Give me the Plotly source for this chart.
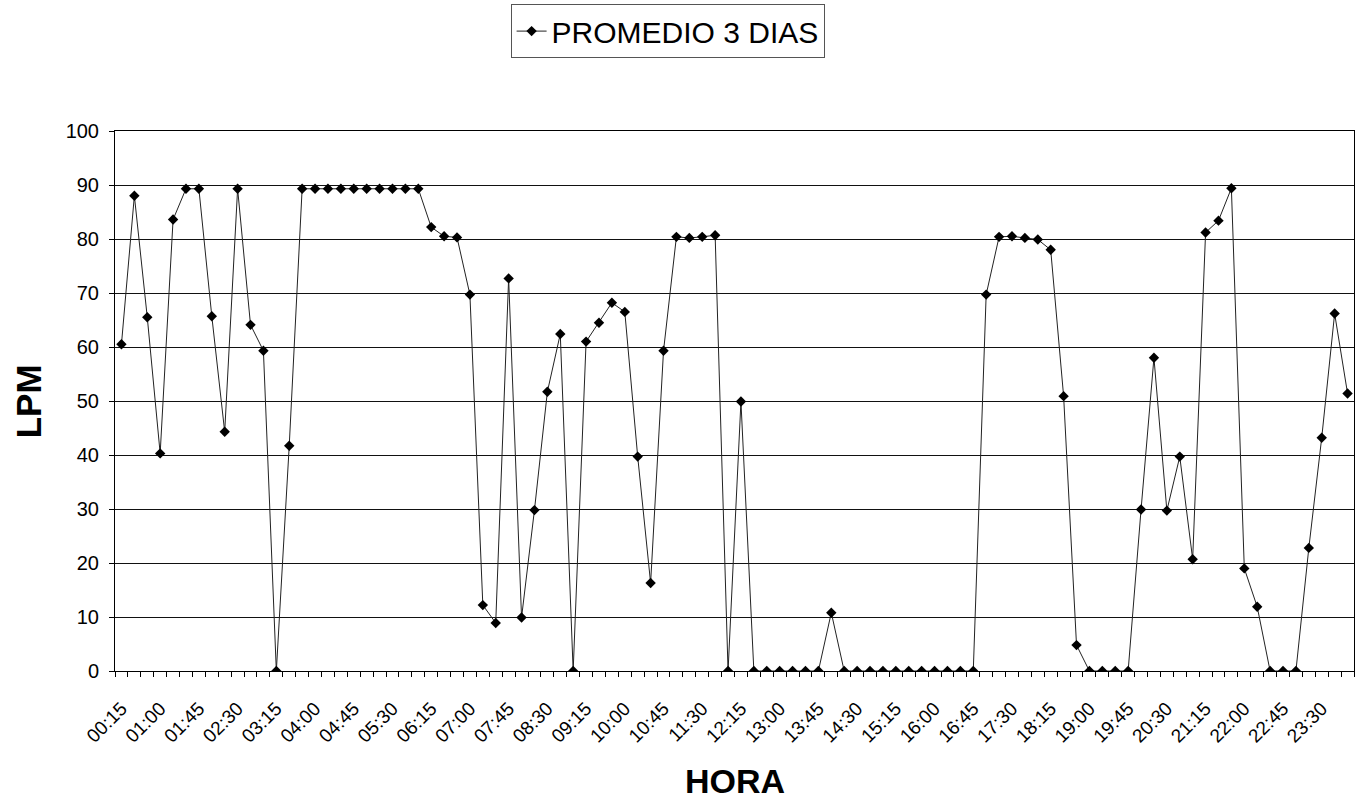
import plotly.graph_objects as go

# Time slots of the day, every 15 minutes (00:15 ... 24:00)
CATEGORIES = [f"{(m // 60):02d}:{(m % 60):02d}" for m in range(15, 24 * 60 + 1, 15)]

# Labels shown on the horizontal axis (every third slot)
TICK_LABELS = [
    "00:15", "01:00", "01:45", "02:30", "03:15", "04:00", "04:45", "05:30",
    "06:15", "07:00", "07:45", "08:30", "09:15", "10:00", "10:45", "11:30",
    "12:15", "13:00", "13:45", "14:30", "15:15", "16:00", "16:45", "17:30",
    "18:15", "19:00", "19:45", "20:30", "21:15", "22:00", "22:45", "23:30",
]

# Average flow (LPM) over three days, one value per slot
PROMEDIO_3_DIAS = [
    60.5, 88.0, 65.5, 40.3, 83.6, 89.3, 89.3, 65.7, 44.3, 89.3, 64.1, 59.3,
    0.0, 41.7, 89.3, 89.3, 89.3, 89.3, 89.3, 89.3, 89.3, 89.3, 89.3, 89.3,
    82.2, 80.5, 80.3, 69.7, 12.2, 8.9, 72.7, 9.9, 29.8, 51.7, 62.4, 0.0,
    61.0, 64.5, 68.2, 66.5, 39.7, 16.3, 59.3, 80.4, 80.2, 80.4, 80.7, 0.0,
    49.9, 0.0, 0.0, 0.0, 0.0, 0.0, 0.0, 10.8, 0.0, 0.0, 0.0, 0.0,
    0.0, 0.0, 0.0, 0.0, 0.0, 0.0, 0.0, 69.7, 80.4, 80.5, 80.2, 79.9,
    78.0, 50.9, 4.8, 0.0, 0.0, 0.0, 0.0, 29.9, 58.0, 29.7, 39.7, 20.7,
    81.2, 83.4, 89.4, 19.0, 11.9, 0.0, 0.0, 0.0, 22.8, 43.2, 66.2, 51.4,
]

Y_TICKS = [0, 10, 20, 30, 40, 50, 60, 70, 80, 90, 100]

FONT = "Arial, Liberation Sans, sans-serif"

x_pos = list(range(len(PROMEDIO_3_DIAS)))
tick_pos = [CATEGORIES.index(t) for t in TICK_LABELS]

fig = go.Figure()
fig.add_trace(go.Scatter(
    x=x_pos,
    y=PROMEDIO_3_DIAS,
    mode="lines+markers",
    name="PROMEDIO 3 DIAS",
    line=dict(color="#222222", width=1),
    marker=dict(symbol="diamond", size=8, color="#000000"),
))

fig.update_layout(
    width=1359,
    height=801,
    margin=dict(l=115, r=5, t=131, b=130, autoexpand=False),
    paper_bgcolor="white",
    plot_bgcolor="white",
    font=dict(family=FONT, color="black"),
    showlegend=True,
    legend=dict(
        x=0.446, y=1.235, xanchor="center", yanchor="top",
        bgcolor="white",
        bordercolor="#555555", borderwidth=1,
        tracegroupgap=0,
        font=dict(family=FONT, size=30, color="black"),
    ),
    xaxis=dict(
        range=[-0.5, len(PROMEDIO_3_DIAS) - 0.5],
        tickmode="array",
        tickvals=tick_pos,
        ticktext=TICK_LABELS,
        tickangle=-45,
        ticks="",
        ticklabelstandoff=18,
        tickfont=dict(family=FONT, size=19, color="black"),
        showgrid=False,
        zeroline=False,
        automargin=False,
        showline=True, linecolor="black", linewidth=1, mirror=True,
        minor=dict(ticks="outside", tick0=-0.5, dtick=1, ticklen=5,
                   tickcolor="black", tickwidth=1, showgrid=False),
    ),
    yaxis=dict(
        range=[0, 100],
        tickmode="array",
        tickvals=Y_TICKS,
        ticks="outside", ticklen=5, tickcolor="black",
        ticklabelstandoff=6,
        tickfont=dict(family=FONT, size=20, color="black"),
        showgrid=True, gridcolor="#111111", gridwidth=1,
        zeroline=False,
        automargin=False,
        showline=True, linecolor="black", linewidth=1, mirror=True,
    ),
    annotations=[
        dict(text="<b>LPM</b>", xref="paper", yref="paper", x=-0.070, y=0.5,
             xanchor="center", yanchor="middle", textangle=-90, showarrow=False,
             font=dict(family=FONT, size=35, color="black")),
        dict(text="<b>HORA</b>", xref="paper", yref="paper", x=0.5, y=-0.203,
             xanchor="center", yanchor="middle", showarrow=False,
             font=dict(family=FONT, size=34, color="black")),
    ],
)

fig.write_html("out.html")
